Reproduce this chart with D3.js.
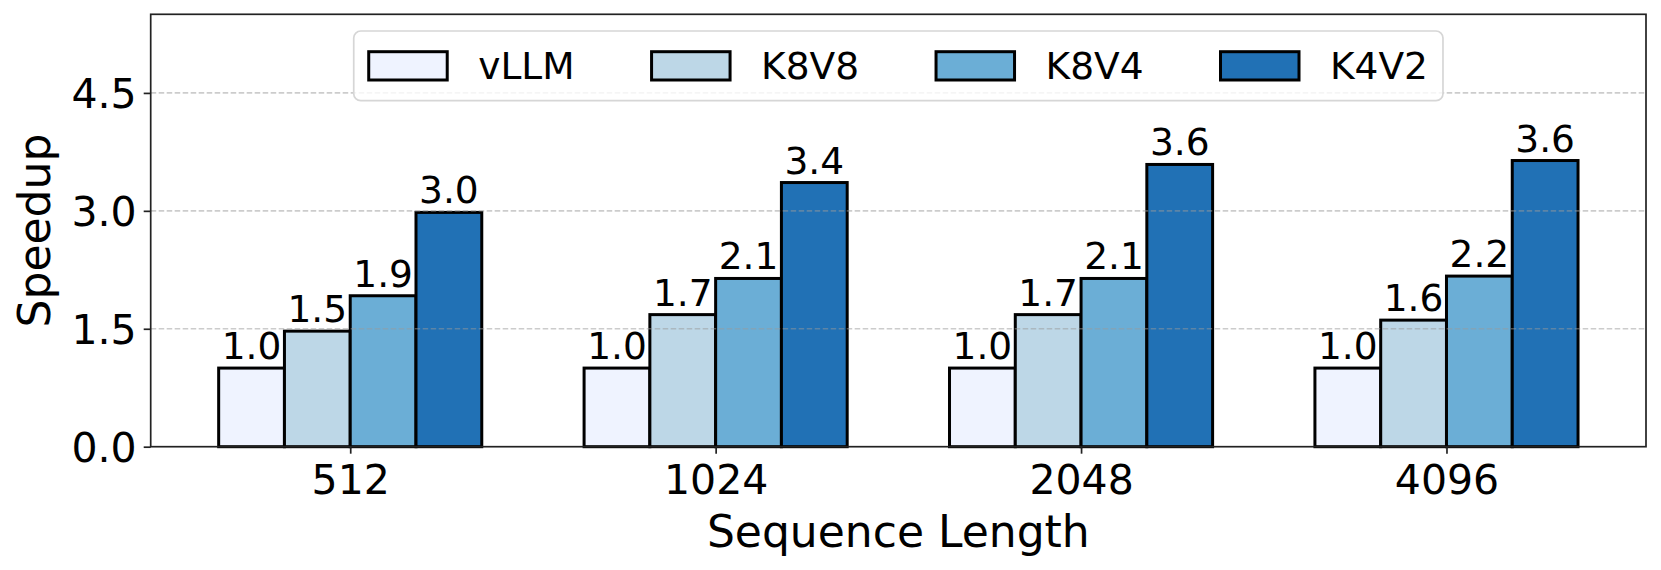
<!DOCTYPE html>
<html>
<head>
<meta charset="utf-8">
<script src="https://cdn.jsdelivr.net/npm/d3@7"></script>
<style>
  body { margin: 0; background: #fff; }
  text { font-family: "DejaVu Sans", sans-serif; fill: #000; }
</style>
</head>
<body>
<div id="chart"></div>
<script>
// data
var categories = ["512", "1024", "2048", "4096"];
var seriesNames = ["vLLM", "K8V8", "K8V4", "K4V2"];
var vllm = [1.0, 1.0, 1.0, 1.0];
var k8v8 = [1.47, 1.68, 1.68, 1.61];
var k8v4 = [1.92, 2.14, 2.14, 2.17];
var k4v2 = [2.98, 3.36, 3.59, 3.64];
var yTicks = [0, 1.5, 3.0, 4.5];
var colors = ["#eff3ff", "#bdd7e7", "#6baed6", "#2171b5"];

var series = [vllm, k8v8, k8v4, k4v2];

var W = 1661, H = 570;
// note: "top" is a read-only global in browsers, so plot* names
var plotL = 150.7, plotR = 1646, plotT = 14.3, plotB = 446.7;
var barW = 0.18;

var svg = d3.select("#chart").append("svg")
    .attr("width", W)
    .attr("height", H);

var x = d3.scaleLinear().domain([-0.546, categories.length - 1 + 0.546]).range([plotL, plotR]);
var y = d3.scaleLinear().domain([0, 5.5]).range([plotB, plotT]);
var fmt = d3.format(".1f");

// bars
series.forEach(function(vals, j) {
  var g = svg.append("g");
  g.selectAll("rect")
    .data(vals)
    .enter().append("rect")
      .attr("x", function(d, i) { return x(i + (j - 1.5) * barW - barW / 2); })
      .attr("y", function(d) { return y(d); })
      .attr("width", x(barW) - x(0))
      .attr("height", function(d) { return y(0) - y(d); })
      .style("fill", colors[j])
      .style("stroke", "#000")
      .style("stroke-width", "3px");
  g.selectAll("text")
    .data(vals)
    .enter().append("text")
      .attr("x", function(d, i) { return x(i + (j - 1.5) * barW); })
      .attr("y", function(d) { return y(d) - 9; })
      .attr("text-anchor", "middle")
      .style("font-size", "37.5px")
      .text(function(d) { return fmt(d); });
});

// grid, drawn over the bars like the original
svg.append("g").selectAll("line")
  .data(yTicks.filter(function(t) { return t > 0; }))
  .enter().append("line")
    .attr("x1", plotL).attr("x2", plotR)
    .attr("y1", function(d) { return y(d); })
    .attr("y2", function(d) { return y(d); })
    .style("stroke", "#999")
    .style("stroke-opacity", 0.5)
    .style("stroke-width", "1.7px")
    .style("stroke-dasharray", "5.5,2.5");

// frame
svg.append("rect")
  .attr("x", plotL).attr("y", plotT)
  .attr("width", plotR - plotL).attr("height", plotB - plotT)
  .style("fill", "none")
  .style("stroke", "#222")
  .style("stroke-width", "1.7px");

// y axis
var yAxis = d3.axisLeft(y).tickValues(yTicks).tickFormat(fmt).tickSize(7).tickPadding(7);
var ya = svg.append("g").attr("transform", "translate(" + plotL + ",0)").call(yAxis);
ya.select(".domain").remove();
ya.selectAll("line").style("stroke", "#222").style("stroke-width", "1.7px");
ya.selectAll("text").style("font-size", "41px").attr("dy", "0.36em");

// x axis
var xAxis = d3.axisBottom(x).tickValues(d3.range(categories.length))
  .tickFormat(function(i) { return categories[i]; }).tickSize(7).tickPadding(7);
var xa = svg.append("g").attr("transform", "translate(0," + plotB + ")").call(xAxis);
xa.select(".domain").remove();
xa.selectAll("line").style("stroke", "#222").style("stroke-width", "1.7px");
xa.selectAll("text").style("font-size", "41px").attr("dy", null).attr("y", 47);

// axis titles
svg.append("text")
  .attr("x", (plotL + plotR) / 2)
  .attr("y", 547)
  .attr("text-anchor", "middle")
  .style("font-size", "44px")
  .text("Sequence Length");

svg.append("text")
  .attr("transform", "translate(50," + (plotT + plotB) / 2 + ") rotate(-90)")
  .attr("text-anchor", "middle")
  .style("font-size", "44px")
  .text("Speedup");

// legend, upper center, one row
var legFont = 37.5, patchW = 78.5, patchH = 28.3, textPad = 31, colGap = 77, pad = 15;
var leg = svg.append("g");
var box = leg.append("rect")
  .attr("rx", 7).attr("ry", 7)
  .style("fill", "#fff")
  .style("fill-opacity", 0.8)
  .style("stroke", "#d6d6d6")
  .style("stroke-width", "1.7px");

var items = leg.selectAll("g.item")
  .data(seriesNames)
  .enter().append("g")
    .attr("class", "item");
items.append("rect")
  .attr("width", patchW).attr("height", patchH)
  .attr("y", -patchH / 2)
  .style("fill", function(d, i) { return colors[i]; })
  .style("stroke", "#000")
  .style("stroke-width", "3px");
items.append("text")
  .attr("x", patchW + textPad)
  .attr("dy", "0.36em")
  .style("font-size", legFont + "px")
  .text(function(d) { return d; });

var widths = [];
items.each(function() {
  var tw = d3.select(this).select("text").node().getComputedTextLength();
  widths.push(patchW + textPad + tw);
});
var total = pad * 2 + d3.sum(widths) + colGap * (widths.length - 1);
var legLeft = (plotL + plotR) / 2 - total / 2;
var legTop = 31, legBottom = 100.7, legMid = (legTop + legBottom) / 2;
items.attr("transform", function(d, i) {
  var px = legLeft + pad + d3.sum(widths.slice(0, i)) + colGap * i;
  return "translate(" + px + "," + legMid + ")";
});
box.attr("x", legLeft).attr("y", legTop)
  .attr("width", total).attr("height", legBottom - legTop);
</script>
</body>
</html>
